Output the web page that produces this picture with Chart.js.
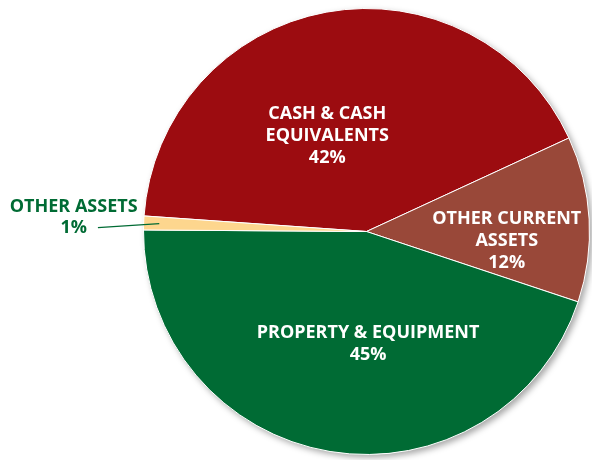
<!DOCTYPE html>
<html>
<head>
<meta charset="utf-8">
<script src="https://cdn.jsdelivr.net/npm/chart.js@4"></script>
<style>
  html, body { margin: 0; padding: 0; background: #fff; }
</style>
</head>
<body>
<canvas id="chart" width="592" height="460"></canvas>
<script>
// Slice data
const categories = ["CASH & CASH EQUIVALENTS", "OTHER CURRENT ASSETS", "PROPERTY & EQUIPMENT", "OTHER ASSETS"]
const labelLines = [["CASH & CASH", "EQUIVALENTS"], ["OTHER CURRENT", "ASSETS"], ["PROPERTY & EQUIPMENT"], ["OTHER ASSETS"]]
const shares = [42, 12, 45, 1]
const sliceColors = ["#9c0c10", "#994839", "#006b34", "#fdd68e"]

// label placement: angle (deg, clockwise from 3 o'clock) and distance as share of radius
const labelSpots = [
  { angle: 248, dist: 0.47, color: "#fff", gap: 22 },
  { angle: 3.5, dist: 0.63, color: "#fff", gap: 22 },
  { angle: 89.2, dist: 0.5, color: "#fff", gap: 22 },
  { angle: 183, dist: 1.315, color: "#006b34", gap: 21, leader: true },
]
const labelFont = "bold 18px 'Open Sans'"

// soft shadow under the pie
const pieShadow = {
  id: "pieShadow",
  beforeDatasetsDraw(chart) {
    const arc = chart.getDatasetMeta(0).data[0]
    const ctx = chart.ctx
    ctx.save()
    ctx.shadowColor = "rgba(0,0,0,0.35)"
    ctx.shadowBlur = 6
    ctx.shadowOffsetX = 3
    ctx.shadowOffsetY = 3
    ctx.beginPath()
    ctx.arc(arc.x, arc.y, arc.outerRadius, 0, Math.PI * 2)
    ctx.fillStyle = "#fff"
    ctx.fill()
    ctx.restore()
  },
}

// slice labels
const sliceLabels = {
  id: "sliceLabels",
  afterDatasetsDraw(chart) {
    const ctx = chart.ctx
    const arcs = chart.getDatasetMeta(0).data
    ctx.save()
    ctx.font = labelFont
    ctx.textAlign = "center"
    ctx.textBaseline = "alphabetic"
    arcs.forEach(function (arc, i) {
      const spot = labelSpots[i]
      const a = spot.angle * Math.PI / 180
      const cx = arc.x + Math.cos(a) * arc.outerRadius * spot.dist
      const cy = arc.y + Math.sin(a) * arc.outerRadius * spot.dist
      const lines = labelLines[i].concat([shares[i] + "%"])
      const top = cy - (lines.length - 1) * spot.gap / 2
      ctx.fillStyle = spot.color
      lines.forEach(function (line, j) {
        ctx.fillText(line, cx, top + j * spot.gap + 6.3)
      })
      if (spot.leader) {
        const lastY = top + (lines.length - 1) * spot.gap
        const w = ctx.measureText(lines[lines.length - 1]).width
        const mid = (arc.startAngle + arc.endAngle) / 2
        ctx.beginPath()
        ctx.moveTo(cx + w / 2 + 11, lastY + 1)
        ctx.lineTo(arc.x + Math.cos(mid) * arc.outerRadius * 0.93, arc.y + Math.sin(mid) * arc.outerRadius * 0.93)
        ctx.strokeStyle = spot.color
        ctx.lineWidth = 1.3
        ctx.stroke()
      }
    })
    ctx.restore()
  },
}

new Chart(document.getElementById("chart"), {
  type: "pie",
  data: {
    labels: categories,
    datasets: [
      {
        data: shares,
        backgroundColor: sliceColors,
        borderColor: "#fff",
        borderWidth: 1,
      },
    ],
  },
  options: {
    responsive: false,
    animation: false,
    rotation: 274,
    layout: { padding: { left: 143, right: 2, top: 8, bottom: 5 } },
    plugins: {
      legend: { display: false },
      tooltip: { enabled: false },
    },
  },
  plugins: [pieShadow, sliceLabels],
})
</script>
</body>
</html>
